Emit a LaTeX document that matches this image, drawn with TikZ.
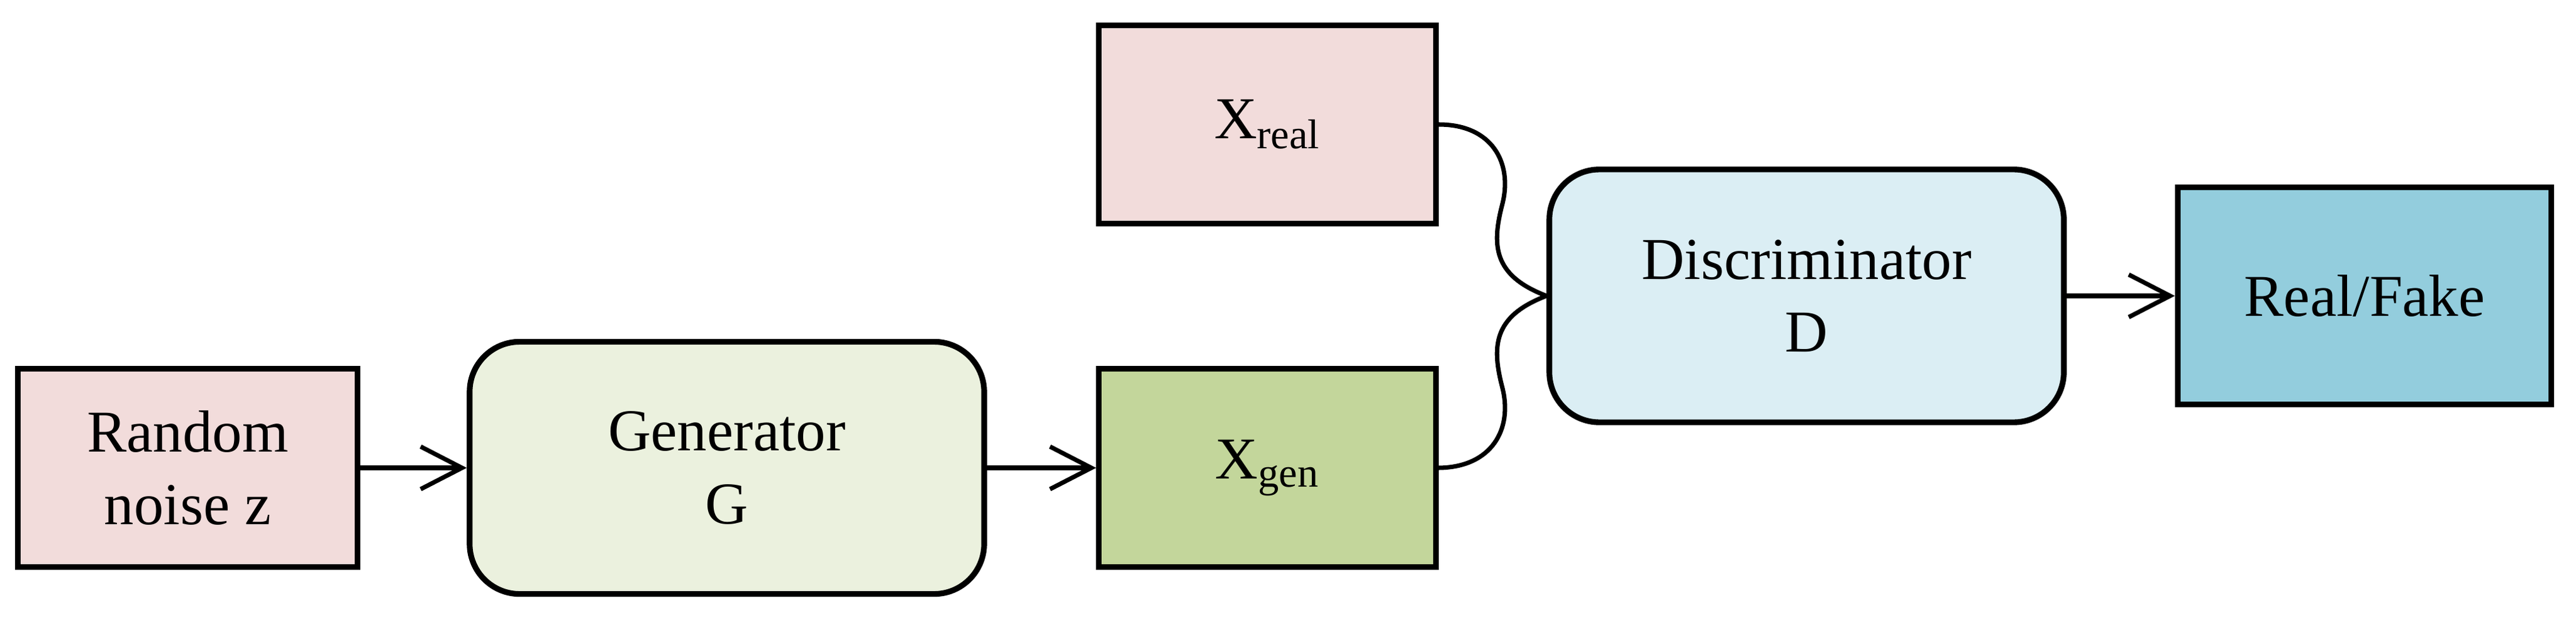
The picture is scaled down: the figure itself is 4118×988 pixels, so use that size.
\documentclass[tikz,border=0pt]{standalone}
\usepackage{fontspec}
\setmainfont{Liberation Serif}
\usetikzlibrary{arrows.meta}
\definecolor{cpink}{HTML}{F2DCDB}
\definecolor{cpale}{HTML}{EBF1DE}
\definecolor{cgreen}{HTML}{C3D69B}
\definecolor{clblue}{HTML}{DBEEF4}
\definecolor{cblue}{HTML}{93CDDD}
\begin{document}
\begin{tikzpicture}[x=0.01cm,y=-0.01cm,
  box/.style={draw,line width=2.6pt,inner sep=0pt,align=center,font=\fontsize{27}{33}\selectfont},
  rbox/.style={box,rounded corners=0.8cm},
  arr/.style={line width=2pt,-{Straight Barb[length=0.66cm,width=0.68cm,line width=2pt]}},
  con/.style={line width=2pt}]
\useasboundingbox (0,0) rectangle (4118,988);
\node[box,fill=cpink,minimum width=5.42cm,minimum height=3.16cm] (n) at (300,748) {Random\\noise z};
\node[rbox,fill=cpale,minimum width=8.22cm,minimum height=4.03cm] (g) at (1162,748) {Generator\\G};
\node[box,fill=cgreen,minimum width=5.38cm,minimum height=3.16cm] (xg) at (2026,748) {X\textsubscript{gen}};
\node[box,fill=cpink,minimum width=5.38cm,minimum height=3.16cm] (xr) at (2026,199) {X\textsubscript{real}};
\node[rbox,fill=clblue,minimum width=8.22cm,minimum height=4.04cm] (d) at (2888,473) {Discriminator\\D};
\node[box,fill=cblue,minimum width=5.97cm,minimum height=3.47cm] (rf) at (3780,473) {Real/Fake};
\draw[arr] (n) -- (g);
\draw[arr] (g) -- (xg);
\draw[arr] (d) -- (rf);
\draw[con] (xr.east) .. controls (2385,199) and (2418,260) .. (2402,325)
  .. controls (2385,390) and (2385,440) .. (d.west);
\draw[con] (xg.east) .. controls (2385,747) and (2418,686) .. (2402,621)
  .. controls (2385,556) and (2385,506) .. (d.west);
\end{tikzpicture}
\end{document}
